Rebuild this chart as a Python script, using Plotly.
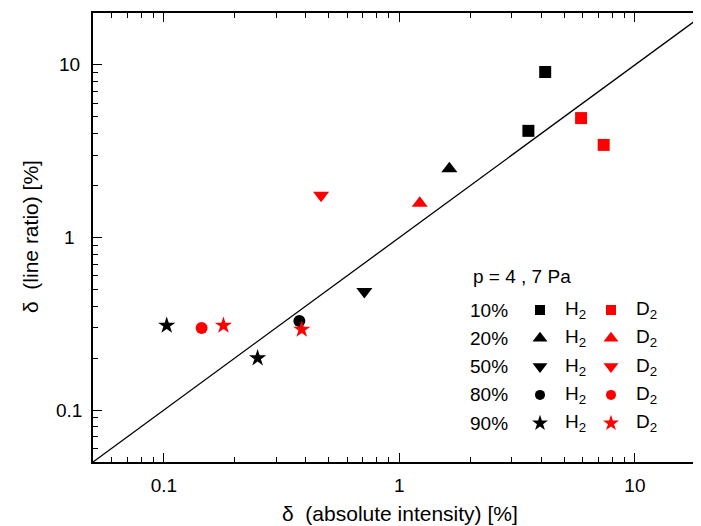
import math
import plotly.graph_objects as go

# ---------------- data ----------------
h2_10_x = [4.16, 3.53]
h2_10_y = [9.1, 4.15]
d2_10_x = [5.91, 7.37]
d2_10_y = [4.92, 3.44]

h2_20_x = [1.63]
h2_20_y = [2.50]
d2_20_x = [1.22]
d2_20_y = [1.58]

h2_50_x = [0.71]
h2_50_y = [0.487]
d2_50_x = [0.465]
d2_50_y = [1.76]

h2_80_x = [0.376]
h2_80_y = [0.328]
d2_80_x = [0.1446]
d2_80_y = [0.2985]

h2_90_x = [0.1028, 0.250]
h2_90_y = [0.309, 0.200]
d2_90_x = [0.179, 0.385]
d2_90_y = [0.309, 0.293]

line_x = [0.05, 20]
line_y = [0.05, 20]

tick_vals = [0.1, 1, 10]
tick_text = ["0.1", "1", "10"]
minor_vals = [0.06, 0.07, 0.08, 0.09,
              0.2, 0.3, 0.4, 0.5, 0.6, 0.7, 0.8, 0.9,
              2, 3, 4, 5, 6, 7, 8, 9, 20]

legend_title = "p = 4 , 7 Pa"
legend_labels = ["10%", "20%", "50%", "80%", "90%"]
legend_symbols = ["square", "triangle-up", "triangle-down", "circle", "star"]
legend_h2 = "H<sub>2</sub>"
legend_d2 = "D<sub>2</sub>"
x_title = "δ  (absolute intensity) [%]"
y_title = "δ  (line ratio) [%]"

# ---------------- style / layout ----------------
FONT = "Liberation Sans, Arial, Helvetica, sans-serif"
BLACK = "#000000"
RED = "#ff0000"
sizes = {"square": 12, "triangle-up": 14, "triangle-down": 14, "circle": 12, "star": 13}
leg_sizes = {"square": 10, "triangle-up": 13, "triangle-down": 13, "circle": 10, "star": 12}

OFF = 8                       # page body margin of the html page
W, H = 701 - OFF, 526 - OFF
PLOT_L, PLOT_T, PLOT_B = 93, 13, 462   # target pixel frame in the window
ML, MT, MR = PLOT_L - OFF, PLOT_T - OFF, 0
MB = H - (PLOT_B - OFF)
PW, PH = W - ML - MR, H - MT - MB
x_decade_px = 235.5


def px(x):
    return (x - OFF - ML) / PW


def py(y):
    return (PLOT_B - y) / PH


fig = go.Figure()

fig.add_trace(go.Scatter(x=line_x, y=line_y, mode="lines",
                         line=dict(color=BLACK, width=1.3), hoverinfo="skip",
                         showlegend=False))

series = [
    (h2_10_x, h2_10_y, "square", BLACK), (d2_10_x, d2_10_y, "square", RED),
    (h2_20_x, h2_20_y, "triangle-up", BLACK), (d2_20_x, d2_20_y, "triangle-up", RED),
    (h2_50_x, h2_50_y, "triangle-down", BLACK), (d2_50_x, d2_50_y, "triangle-down", RED),
    (h2_80_x, h2_80_y, "circle", BLACK), (d2_80_x, d2_80_y, "circle", RED),
    (h2_90_x, h2_90_y, "star", BLACK), (d2_90_x, d2_90_y, "star", RED),
]
for xs, ys, sym, col in series:
    fig.add_trace(go.Scatter(x=xs, y=ys, mode="markers",
                             marker=dict(symbol=sym, color=col, size=sizes[sym],
                                         line=dict(width=0)),
                             showlegend=False))

# ---------------- legend ----------------
row_y0, row_dy = 310, 28.3
lx_label, lx_h2m, lx_h2t, lx_d2m, lx_d2t = 468, 540, 563, 611, 634
for i, (lab, sym) in enumerate(zip(legend_labels, legend_symbols)):
    yy = row_y0 + i * row_dy
    fig.add_trace(go.Scatter(x=[px(lx_h2m), px(lx_d2m)], y=[py(yy), py(yy)],
                             mode="markers", xaxis="x2", yaxis="y2",
                             marker=dict(symbol=sym, color=[BLACK, RED],
                                         size=leg_sizes[sym], line=dict(width=0)),
                             showlegend=False, hoverinfo="skip"))
    for xx, txt in ((lx_label, lab), (lx_h2t, legend_h2), (lx_d2t, legend_d2)):
        fig.add_annotation(x=px(xx), y=py(yy), xref="paper", yref="paper",
                           text=txt, showarrow=False, xanchor="left",
                           yanchor="middle",
                           font=dict(family=FONT, size=19, color=BLACK))
fig.add_annotation(x=px(471), y=py(276), xref="paper", yref="paper",
                   text=legend_title, showarrow=False, xanchor="left",
                   yanchor="middle", font=dict(family=FONT, size=19, color=BLACK))

# axis titles
fig.add_annotation(x=px(400), y=py(513), xref="paper", yref="paper",
                   text=x_title, showarrow=False, xanchor="center",
                   yanchor="middle", font=dict(family=FONT, size=21, color=BLACK))
fig.add_annotation(x=px(30), y=py(237), xref="paper", yref="paper",
                   text=y_title, showarrow=False, textangle=-90,
                   xanchor="center", yanchor="middle",
                   font=dict(family=FONT, size=21, color=BLACK))

# y tick labels (centred, as in the reference)
for v, t in zip(tick_vals, tick_text):
    fig.add_annotation(x=px(69), y=math.log10(v), xref="paper", yref="y",
                       text=t, showarrow=False, xanchor="center",
                       yanchor="middle",
                       font=dict(family=FONT, size=19, color=BLACK))

x_lo = math.log10(0.05)
x_hi = x_lo + PW / x_decade_px

axis_common = dict(type="log", showgrid=False, zeroline=False, showline=True,
                   automargin=False,
                   linecolor=BLACK, linewidth=1.5, ticks="inside", ticklen=9,
                   tickwidth=1.2, tickcolor=BLACK, tickmode="array",
                   tickvals=tick_vals, ticktext=tick_text,
                   tickfont=dict(family=FONT, size=19, color=BLACK),
                   minor=dict(ticks="inside", ticklen=5, tickwidth=1.1,
                              tickcolor=BLACK, showgrid=False,
                              tickmode="array", tickvals=minor_vals))

fig.update_layout(
    width=W, height=H, autosize=False,
    margin=dict(l=ML, r=MR, t=MT, b=MB, autoexpand=False),
    paper_bgcolor="white", plot_bgcolor="white",
    showlegend=False,
    xaxis=dict(range=[x_lo, x_hi], mirror="ticks", ticklabelstandoff=5, **axis_common),
    yaxis=dict(range=[math.log10(0.05), math.log10(20)], showticklabels=False,
               **axis_common),
    xaxis2=dict(range=[0, 1], overlaying="x", visible=False, fixedrange=True,
                automargin=False),
    yaxis2=dict(range=[0, 1], overlaying="y", visible=False, fixedrange=True,
                automargin=False),
)

fig.write_html("out.html", config={"responsive": False})
